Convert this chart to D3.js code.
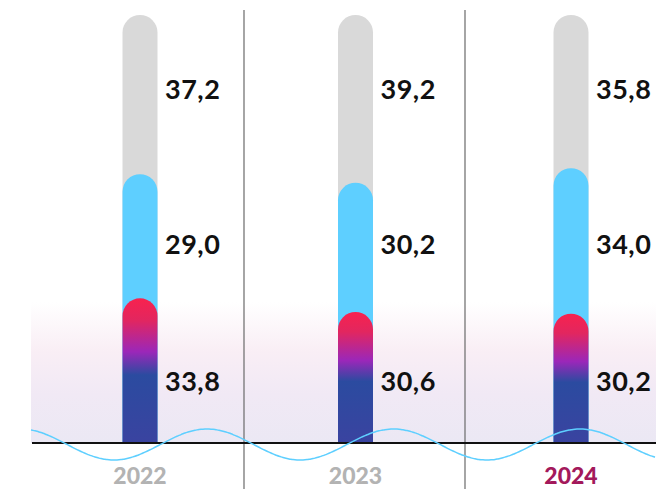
<!DOCTYPE html>
<html><head><meta charset="utf-8">
<script src="https://cdn.jsdelivr.net/npm/d3@7"></script>
<style>html,body{margin:0;padding:0;background:#fff;}svg{display:block;}</style>
</head><body>
<svg id="c" width="656" height="489"></svg>
<script>
const years = ["2022", "2023", "2024"];
const bottomValues = [33.8, 30.6, 30.2];
const middleValues = [29.0, 30.2, 34.0];
const topValues = [37.2, 39.2, 35.8];
const yearColors = ["#b3b3b3", "#b3b3b3", "#a3195b"];

const fmt = v => v.toFixed(1).replace(".", ",");
const svg = d3.select("#c");
const W = 656, H = 489, base = 443, barW = 35;

const x = d3.scalePoint().domain(years).range([140, 571]);
const y = d3.scaleLinear().domain([0, 100]).range([base, 15]);

const defs = svg.append("defs");
const bg = defs.append("linearGradient").attr("id", "bg").attr("x1", 0).attr("x2", 0).attr("y1", 0).attr("y2", 1);
[[0, "#ffffff"], [0.35, "#f9eef5"], [0.65, "#f1e9f5"], [1, "#ebe8f4"]].forEach(s => bg.append("stop").attr("offset", s[0]).attr("stop-color", s[1]));
const gr = defs.append("linearGradient").attr("id", "gr").attr("x1", 0).attr("x2", 0).attr("y1", 0).attr("y2", 1);
[[0, "#f8224e"], [0.15, "#e2265f"], [0.37, "#9b27b9"], [0.53, "#2b4ba0"], [1, "#3a43a0"]].forEach(s => gr.append("stop").attr("offset", s[0]).attr("stop-color", s[1]));

// background band
svg.append("rect").attr("x", 31).attr("y", 302).attr("width", W - 31).attr("height", base - 302).attr("fill", "url(#bg)");

// separators
[244, 465].forEach(sx => svg.append("line").attr("x1", sx).attr("x2", sx).attr("y1", 10).attr("y2", H)
  .attr("stroke", "#6a6a6a").attr("stroke-width", 1.2));

function pill(cx, topY) {
  const r = barW / 2, l = cx - r, rr = cx + r;
  const p = d3.path();
  p.moveTo(l, base);
  p.lineTo(l, topY + r);
  p.arc(cx, topY + r, r, Math.PI, 0);
  p.lineTo(rr, base);
  p.closePath();
  return p.toString();
}

const rows = years.map((yr, i) => ({yr, b: bottomValues[i], m: middleValues[i], t: topValues[i], c: yearColors[i]}));
const g = svg.append("g");
g.selectAll(".gray").data(rows).join("path").attr("d", d => pill(x(d.yr), y(d.b + d.m + d.t))).attr("fill", "#d9d9d9");
g.selectAll(".blue").data(rows).join("path").attr("d", d => pill(x(d.yr), y(d.b + d.m))).attr("fill", "#5ecfff");
g.selectAll(".grad").data(rows).join("path").attr("d", d => pill(x(d.yr), y(d.b))).attr("fill", "url(#gr)");

// baseline
svg.append("line").attr("x1", 32).attr("x2", W).attr("y1", base).attr("y2", base).attr("stroke", "#111").attr("stroke-width", 2);

// decorative wave
const wavePts = d3.range(31, W + 1, 2).map(px => [px, 444.5 - 15.5 * Math.cos(2 * Math.PI * (px - 207) / 186.5)]);
svg.append("path").attr("d", d3.line().curve(d3.curveBasis)(wavePts)).attr("fill", "none").attr("stroke", "#5ecfff").attr("stroke-width", 1.5);

// value labels
const labelRows = [["t", 99], ["m", 254], ["b", 391]];
labelRows.forEach(([k, ly]) => {
  svg.selectAll(null).data(rows).join("text")
    .attr("x", d => x(d.yr) + 25).attr("y", ly)
    .attr("font-family", "Lato, sans-serif").attr("font-weight", 700).attr("font-size", 27)
    .attr("letter-spacing", 0.5)
    .attr("fill", "#111").text(d => fmt(d[k]));
});

// year labels
svg.selectAll(null).data(rows).join("text")
  .attr("x", d => x(d.yr)).attr("y", 484).attr("text-anchor", "middle")
  .attr("font-family", "Lato, sans-serif").attr("font-weight", 900).attr("font-size", 23)
  .attr("fill", d => d.c).text(d => d.yr);
</script>
</body></html>
